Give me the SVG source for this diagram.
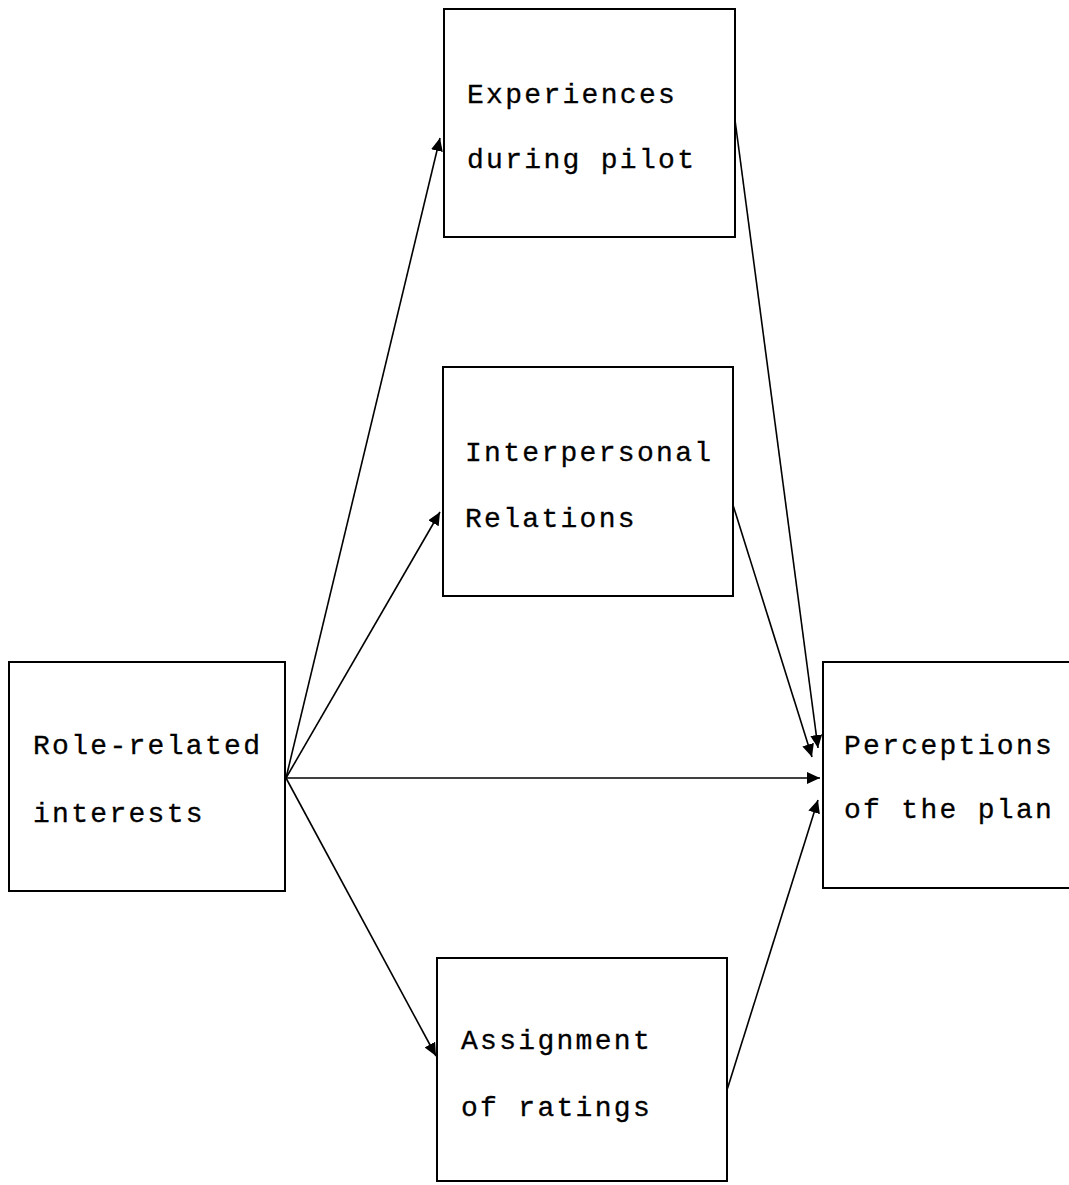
<svg xmlns="http://www.w3.org/2000/svg" width="1069" height="1185" viewBox="0 0 1069 1185">
<style>
.box{fill:none;stroke:#000;stroke-width:2}
.lbl{font-family:"Liberation Mono","DejaVu Sans Mono",monospace;font-size:28px;letter-spacing:2.3px;fill:#000;stroke:#000;stroke-width:0.3}
.con{stroke:#000;stroke-width:1.6;fill:none;marker-end:url(#ah)}
</style>
<defs>
<marker id="ah" markerUnits="userSpaceOnUse" markerWidth="14" markerHeight="12" refX="13" refY="6" orient="auto">
<path d="M0,0 L13,6 L0,12 Z" fill="#000"/>
</marker>
</defs>
<rect width="1069" height="1185" fill="#fff"/>
<g id="connectors">
<path class="con" d="M286 778 L440 138"/>
<path class="con" d="M286 778 L440 512"/>
<path class="con" d="M286 778 L820 778"/>
<path class="con" d="M286 778 L436 1056"/>
<path class="con" d="M735 120 L818 748"/>
<path class="con" d="M733 505 L812 757"/>
<path class="con" d="M727 1090 L818 800"/>
</g>
<g id="experiences">
<rect class="box" x="444" y="9" width="291" height="228"/>
<text class="lbl" x="467" y="103">Experiences</text>
<text class="lbl" x="467" y="168">during pilot</text>
</g>
<g id="interpersonal">
<rect class="box" x="443" y="367" width="290" height="229"/>
<text class="lbl" x="465" y="461">Interpersonal</text>
<text class="lbl" x="465" y="527">Relations</text>
</g>
<g id="role">
<rect class="box" x="9" y="662" width="276" height="229"/>
<text class="lbl" x="33" y="754">Role-related</text>
<text class="lbl" x="33" y="822">interests</text>
</g>
<g id="perceptions">
<rect class="box" x="823" y="662" width="260" height="226"/>
<text class="lbl" x="844" y="754">Perceptions</text>
<text class="lbl" x="844" y="818">of the plan</text>
</g>
<g id="assignment">
<rect class="box" x="437" y="958" width="290" height="223"/>
<text class="lbl" x="461" y="1049">Assignment</text>
<text class="lbl" x="461" y="1116">of ratings</text>
</g>
</svg>
